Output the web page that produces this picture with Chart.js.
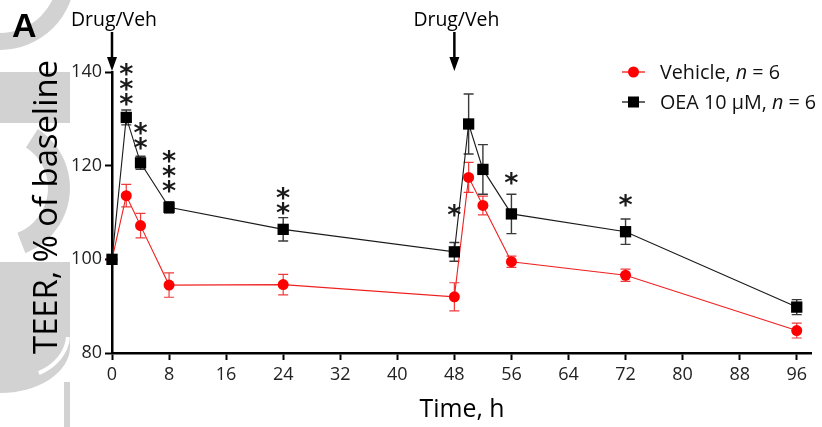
<!DOCTYPE html>
<html><head><meta charset="utf-8">
<script src="https://cdn.jsdelivr.net/npm/chart.js@4/dist/chart.umd.min.js"></script>
<style>html,body{margin:0;padding:0;background:#fff;}#wrap{width:822px;height:427px;position:relative;}</style>
</head><body><div id="wrap"><canvas id="c"></canvas></div>
<script>
// ---- data ----
const times = [0, 2, 4, 8, 24, 48, 50, 52, 56, 72, 96];
const vehicleMean = [100, 113.6, 107.2, 94.5, 94.6, 92.0, 117.5, 111.5, 99.5, 96.6, 84.8];
const vehicleSem  = [0, 2.4, 2.6, 2.6, 2.2, 3.0, 3.2, 2.0, 1.2, 1.3, 1.6];
const oeaMean = [100, 130.3, 120.6, 111.1, 106.4, 101.6, 128.9, 119.2, 109.7, 105.9, 89.8];
const oeaSem  = [0, 1.6, 1.4, 1.2, 2.5, 2.0, 6.4, 5.3, 4.2, 2.7, 1.6];
const sigTimes = [2, 4, 8, 24, 48, 56, 72];
const sigStars = [3, 2, 3, 2, 1, 1, 1];
const doseTimes = [0, 48];
const xTicks = [0, 8, 16, 24, 32, 40, 48, 56, 64, 72, 80, 88, 96];
const yTicks = [80, 100, 120, 140];
const seriesNames = ['Vehicle', 'OEA 10 \u03BCM'];
const nPerGroup = [6, 6];
const doseLabel = 'Drug/Veh';
const xTitle = 'Time, h';
const yTitle = 'TEER, % of baseline';
const panelLabel = 'A';

// ---- layout (pixels) ----
const starLift = [10, 13, 15, 9, 32, 16, 19];
const starPitch = 15;
const FONT = '"Open Sans", sans-serif';

function fitFont(ctx, text, family, weight, targetW, base) {
  ctx.font = weight + ' ' + base + 'px ' + family;
  const w = ctx.measureText(text).width;
  return base * targetW / w;
}

const watermark = {
  id: 'watermark',
  beforeDraw(chart) {
    const ctx = chart.ctx;
    ctx.save();
    ctx.fillStyle = '#d2d2d2';
    // top ring
    ctx.beginPath();
    ctx.arc(0, -25, 75, 0, Math.PI / 2);
    ctx.arc(0, -25, 58, Math.PI / 2, 0, true);
    ctx.closePath(); ctx.fill();
    // upper block
    ctx.fillRect(0, 72, 70, 51);
    // middle arc
    ctx.beginPath();
    ctx.arc(0, 188, 70, -1.0, 1.2);
    ctx.arc(0, 188, 48, 1.2, -1.0, true);
    ctx.closePath(); ctx.fill();
    // lower block + C bottom
    ctx.fillRect(0, 262, 70, 85);
    ctx.beginPath();
    ctx.ellipse(0, 347, 70, 46, 0, 0, Math.PI / 2);
    ctx.lineTo(0, 347); ctx.closePath(); ctx.fill();
    ctx.strokeStyle = '#ffffff'; ctx.lineWidth = 4;
    ctx.beginPath();
    ctx.ellipse(10, 335, 58, 44, 0, 0.05, 1.05);
    ctx.stroke();
    ctx.fillRect(64, 382, 6, 45);
    ctx.restore();
  }
};

const errorBars = {
  id: 'errorBars',
  beforeDatasetsDraw(chart) {
    const { ctx, scales: { x, y } } = chart;
    const metas = chart.getSortedVisibleDatasetMetas().slice().reverse();
    metas.forEach(meta => {
      const ds = chart.data.datasets[meta.index];
      ctx.save();
      ctx.strokeStyle = ds.errColor; ctx.lineWidth = ds.errWidth;
      ds.data.forEach((p, j) => {
        const e = ds.sem[j]; if (!e) return;
        const px = x.getPixelForValue(p.x);
        const top = y.getPixelForValue(p.y + e), bot = y.getPixelForValue(p.y - e);
        ctx.beginPath();
        ctx.moveTo(px, top); ctx.lineTo(px, bot);
        ctx.moveTo(px - 5, top); ctx.lineTo(px + 5, top);
        ctx.moveTo(px - 5, bot); ctx.lineTo(px + 5, bot);
        ctx.stroke();
      });
      ctx.restore();
    });
  }
};

const annotations = {
  id: 'annotations',
  afterDraw(chart) {
    const { ctx, scales: { x, y } } = chart;
    ctx.save();
    ctx.fillStyle = '#000'; ctx.strokeStyle = '#000';
    // asterisks
    ctx.font = 'bold 27px "DejaVu Sans", sans-serif';
    const m = ctx.measureText('*');
    const glyphMid = (m.actualBoundingBoxAscent - m.actualBoundingBoxDescent) / 2;
    ctx.textAlign = 'center'; ctx.textBaseline = 'alphabetic';
    ctx.fillStyle = '#1a1a1a';
    sigTimes.forEach((t, i) => {
      const j = times.indexOf(t);
      const px = x.getPixelForValue(t);
      const errTop = y.getPixelForValue(oeaMean[j] + oeaSem[j]);
      for (let k = 0; k < sigStars[i]; k++) {
        const cy = errTop - starLift[i] - k * starPitch;
        ctx.fillText('*', px, cy + glyphMid);
      }
    });
    ctx.fillStyle = '#000';
    // dose arrows + labels
    const fs = fitFont(ctx, doseLabel, FONT, '400', 86, 18);
    ctx.font = '400 ' + fs + 'px ' + FONT;
    doseTimes.forEach(t => {
      const px = x.getPixelForValue(t);
      ctx.fillText(doseLabel, px + 2, 26);
      ctx.lineWidth = 2.5;
      ctx.beginPath(); ctx.moveTo(px, 32); ctx.lineTo(px, 60); ctx.stroke();
      ctx.beginPath(); ctx.moveTo(px - 5, 57); ctx.lineTo(px + 5, 57); ctx.lineTo(px, 71); ctx.closePath(); ctx.fill();
    });
    // panel label
    ctx.font = 'bold 34px "Liberation Sans", Arial, sans-serif';
    ctx.textAlign = 'left';
    ctx.fillText(panelLabel, 12, 37);
    // axis titles
    const xs = fitFont(ctx, xTitle, FONT, '400', 85, 22);
    ctx.font = '400 ' + xs + 'px ' + FONT;
    ctx.textAlign = 'center';
    ctx.fillText(xTitle, 462, 417);
    const ys = fitFont(ctx, yTitle, FONT, '400', 294, 26);
    ctx.save();
    ctx.translate(57, 207); ctx.rotate(-Math.PI / 2);
    ctx.font = '400 ' + ys + 'px ' + FONT;
    ctx.fillText(yTitle, 0, 0);
    ctx.restore();
    // legend
    const legY = [72, 102];
    const legStyle = [
      { c: '#ff0000', shape: 'circle' },
      { c: '#000000', shape: 'rect' }
    ];
    const full1 = seriesNames[1] + ', n = ' + nPerGroup[1];
    const ls = fitFont(ctx, full1, FONT, '400', 157, 18);
    seriesNames.forEach((name, i) => {
      const cy = legY[i];
      ctx.strokeStyle = legStyle[i].c; ctx.fillStyle = legStyle[i].c; ctx.lineWidth = 1.2;
      ctx.beginPath(); ctx.moveTo(622, cy); ctx.lineTo(645, cy); ctx.stroke();
      if (legStyle[i].shape === 'circle') { ctx.beginPath(); ctx.arc(633.5, cy, 5.5, 0, Math.PI * 2); ctx.fill(); }
      else { ctx.fillRect(628, cy - 5.5, 11, 11); }
      ctx.fillStyle = '#111';
      ctx.textAlign = 'left'; ctx.textBaseline = 'middle';
      let tx = 660;
      ctx.font = '400 ' + ls + 'px ' + FONT;
      const a = name + ', ';
      ctx.fillText(a, tx, cy + 1); tx += ctx.measureText(a).width;
      ctx.font = 'italic 400 ' + ls + 'px ' + FONT;
      ctx.fillText('n', tx, cy + 1); tx += ctx.measureText('n').width;
      ctx.font = '400 ' + ls + 'px ' + FONT;
      ctx.fillText(' = ' + nPerGroup[i], tx, cy + 1);
    });
    ctx.restore();
  }
};

const ctx = document.getElementById('c').getContext('2d');
new Chart(ctx, {
  type: 'line',
  data: {
    datasets: [
      {
        label: seriesNames[1],
        data: times.map((t, i) => ({ x: t, y: oeaMean[i] })),
        sem: oeaSem, errColor: '#3a3a3a', errWidth: 1.4,
        borderColor: '#1a1a1a', borderWidth: 1.1,
        backgroundColor: '#000', pointBackgroundColor: '#000', pointBorderColor: '#000',
        pointStyle: 'rect', pointRadius: 8, pointBorderWidth: 0,
        order: 0, clip: false, tension: 0
      },
      {
        label: seriesNames[0],
        data: times.map((t, i) => ({ x: t, y: vehicleMean[i] })),
        sem: vehicleSem, errColor: '#f03a3a', errWidth: 1.2,
        borderColor: '#f02020', borderWidth: 1.1,
        backgroundColor: '#ff0000', pointBackgroundColor: '#ff0000', pointBorderColor: '#ff0000',
        pointStyle: 'circle', pointRadius: 5.5, pointBorderWidth: 0,
        order: 1, clip: false, tension: 0
      }
    ]
  },
  options: {
    responsive: true, maintainAspectRatio: false, animation: false, devicePixelRatio: 1,
    layout: { padding: { left: 0, top: 72, right: 11, bottom: 0 } },
    plugins: { legend: { display: false }, tooltip: { enabled: false }, title: { display: false } },
    events: [],
    scales: {
      x: {
        type: 'linear', min: 0, max: 98,
        afterFit: s => { s.height = 74; },
        afterBuildTicks: s => { s.ticks = xTicks.map(v => ({ value: v })); },
        border: { color: '#000', width: 2.5 },
        grid: { drawOnChartArea: false, drawTicks: true, tickLength: 7, tickWidth: 2, tickColor: '#000' },
        ticks: { color: '#222', font: { family: FONT, size: 18 }, padding: 4, maxRotation: 0, autoSkip: false }
      },
      y: {
        type: 'linear', min: 80, max: 140,
        afterFit: s => { s.width = 112; },
        afterBuildTicks: s => { s.ticks = yTicks.map(v => ({ value: v })); },
        border: { color: '#000', width: 2.5 },
        grid: { drawOnChartArea: false, drawTicks: true, tickLength: 7, tickWidth: 2, tickColor: '#000' },
        ticks: { color: '#222', font: { family: FONT, size: 18 }, padding: 3 }
      }
    }
  },
  plugins: [watermark, errorBars, annotations]
});
</script>
</body></html>
